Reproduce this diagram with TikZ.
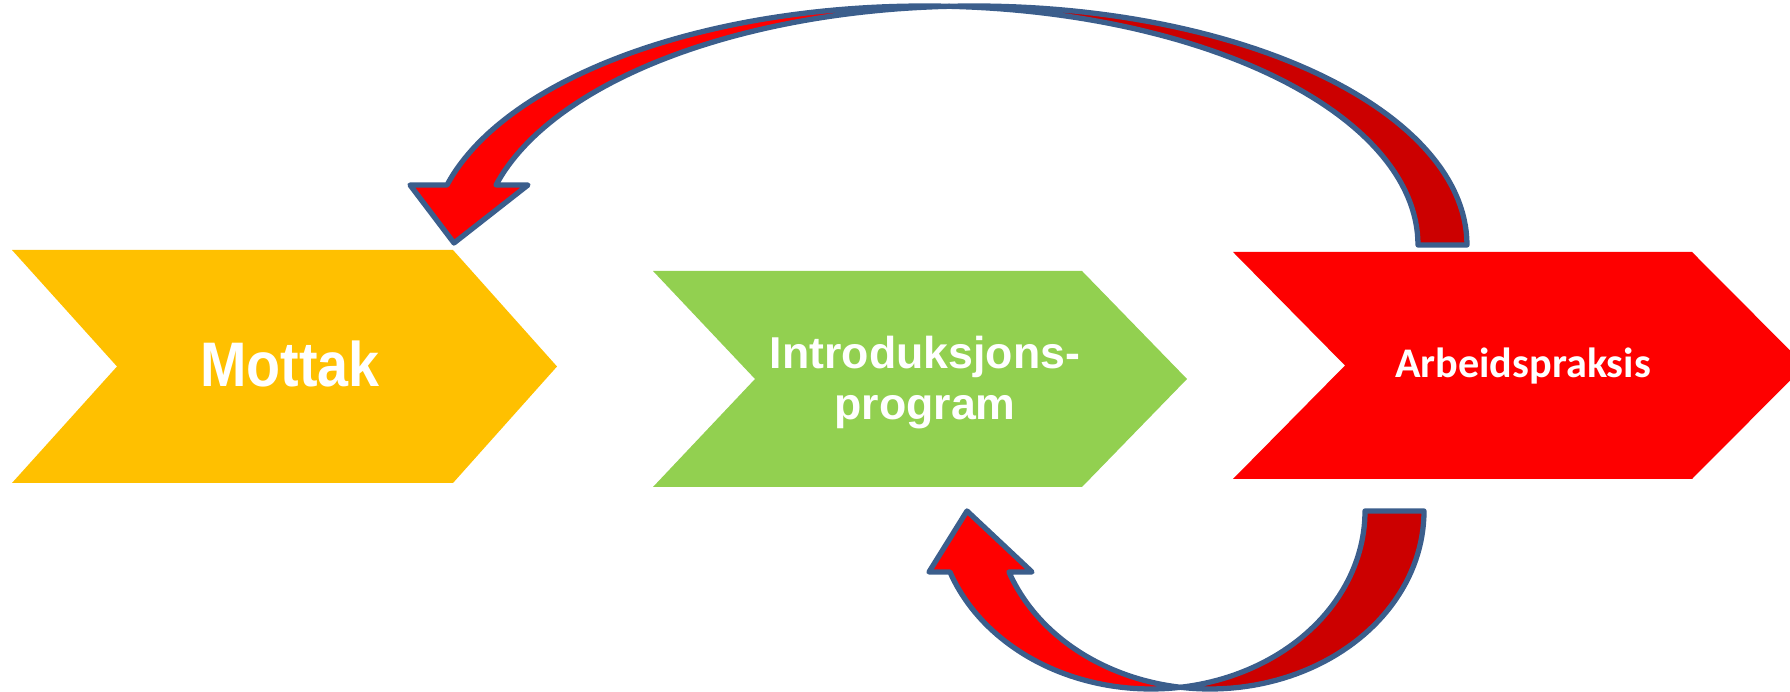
\documentclass[tikz,border=0pt]{standalone}
\usepackage{fontspec}
\usepackage{tikz}
\usepackage{xcolor}
\setmainfont{Liberation Sans}
\newfontfamily\narrowfont[FakeStretch=0.885]{Liberation Sans}
\newfontfamily\calibrifont{Carlito}

\begin{document}
\begin{tikzpicture}[x=0.01cm,y=-0.01cm]
\definecolor{MOT}{HTML}{FFC000}
\definecolor{INT}{HTML}{92D050}
\definecolor{PRA}{HTML}{FE0000}
\definecolor{FRONT}{HTML}{FF0000}
\definecolor{BACK}{HTML}{CC0000}
\definecolor{EDGE}{HTML}{3B5E8C}
\tikzset{
	ribbon/.style={draw=EDGE, line width=1.5pt, line join=round},
	steptext/.style={text=white, inner sep=0pt, align=center},
}

\useasboundingbox (0,0) rectangle (1790,692);
\clip (0,0) rectangle (1790,692);

% Chevrons
\foreach \l/\r/\t/\b/\n/\p/\f in {12/453/250/483/117/557/MOT,653/1082/271/487/755/1187/INT,1233/1692/252/479/1345/1805/PRA}{
	\fill[\f] (\l,\t) -- (\r,\t) -- (\p,{(\t+\b)/2}) -- (\r,\b) -- (\l,\b) -- (\n,{(\t+\b)/2}) -- cycle;
}

\node[steptext, font=\narrowfont\bfseries\fontsize{17.9}{20}\selectfont] (mottak) at (290,364) {Mottak};
\node[steptext, font=\bfseries\fontsize{12.7}{14.5}\selectfont] (intro) at (925,383) {Introduksjons-\\program};
\node[steptext, font=\calibrifont\bfseries\fontsize{12}{14}\selectfont] (praksis) at (1523,366) {Arbeidspraksis};

% Top arrow, back then front
\filldraw[ribbon, fill=BACK] plot[domain=92.85:0, samples=60] ({973.6+493.4*cos(\x)},{245-239*sin(\x)})
	-- plot[domain=0:87.15, samples=60] ({924.6+493.4*cos(\x)},{245-239*sin(\x)}) -- cycle;
\filldraw[ribbon, fill=FRONT] plot[domain=87.15:165.46, samples=60] ({924.6+493.4*cos(\x)},{245-239*sin(\x)})
	-- (410,185) -- (454,243) -- (528,185)
	-- plot[domain=165.46:92.85, samples=60] ({973.6+493.4*cos(\x)},{245-239*sin(\x)}) -- cycle;

% Bottom arrow, back then front
\filldraw[ribbon, fill=BACK] plot[domain=97.93:0, samples=50] ({1210+214*cos(\x)},{511+178*sin(\x)})
	-- plot[domain=0:82.07, samples=50] ({1151+214*cos(\x)},{511+178*sin(\x)}) -- cycle;
\filldraw[ribbon, fill=FRONT] plot[domain=82.07:159.96, samples=50] ({1151+214*cos(\x)},{511+178*sin(\x)})
	-- (929,572) -- (967,511) -- (1032,572)
	-- plot[domain=159.96:97.93, samples=50] ({1210+214*cos(\x)},{511+178*sin(\x)}) -- cycle;

\end{tikzpicture}
\end{document}
